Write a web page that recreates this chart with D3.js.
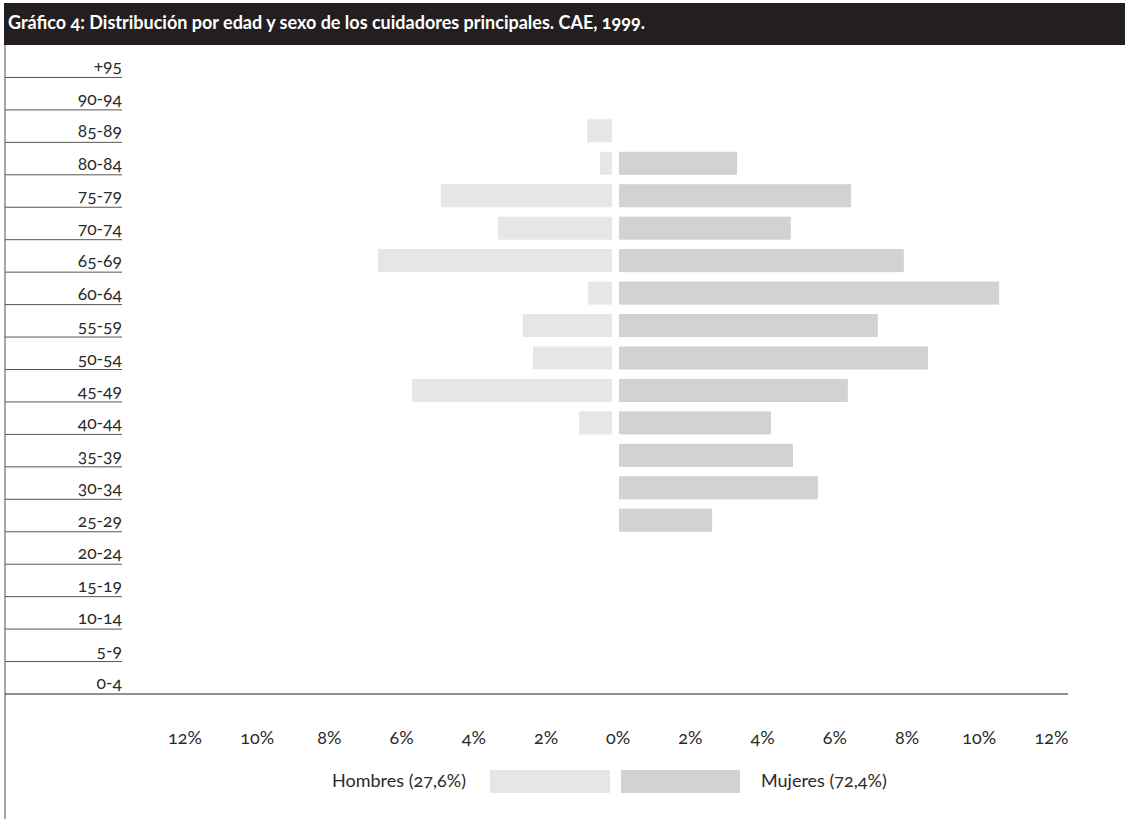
<!DOCTYPE html>
<html><head><meta charset="utf-8">
<script src="https://cdn.jsdelivr.net/npm/d3@7"></script>
<style>
body{margin:0;background:#fff}
svg{display:block}
text{font-family:Lato,"Noto Sans",sans-serif;font-variant-numeric:oldstyle-nums;font-feature-settings:"onum" 1;}
</style>
</head><body>
<svg id="chart" width="1125" height="819"></svg>
<script>
const title = "Gráfico 4: Distribución por edad y sexo de los cuidadores principales. CAE, 1999.";
const ageGroups = ["+95","90-94","85-89","80-84","75-79","70-74","65-69","60-64","55-59","50-54","45-49","40-44","35-39","30-34","25-29","20-24","15-19","10-14","5-9","0-4"];
const hombres = [0,0,0.69,0.33,4.74,3.16,6.48,0.66,2.47,2.19,5.54,0.91,0,0,0,0,0,0,0,0];
const mujeres = [0,0,0,3.27,6.43,4.76,7.89,10.53,7.17,8.56,6.34,4.21,4.82,5.51,2.58,0,0,0,0,0];
const tickValues = [-12,-10,-8,-6,-4,-2,0,2,4,6,8,10,12];
const legendLabels = ["Hombres (27,6%)","Mujeres (72,4%)"];
const colors = {hombres:"#e5e6e8", mujeres:"#d1d2d4"};

const svg = d3.select("#chart");
const W = 1125, H = 819;

// title bar
svg.append("rect").attr("x",4).attr("y",3).attr("width",W-4).attr("height",42).attr("fill","#231f20");
svg.append("text").attr("x",8).attr("y",29).attr("fill","#fff")
  .attr("font-size",18).attr("font-weight",700).text(title);

const y = d3.scaleBand().domain(ageGroups).range([45,694]).padding(0);
const unit = 36.1;
const xM = d3.scaleLinear().domain([0,12]).range([612, 612-12*unit]);
const xF = d3.scaleLinear().domain([0,12]).range([619, 619+12*unit]);
const xA = d3.scaleLinear().domain([-12,12]).range([617.7-12*unit, 617.7+12*unit]);

// left vertical line
svg.append("line").attr("x1",5).attr("x2",5).attr("y1",45).attr("y2",H).attr("stroke","#8a8a8a").attr("stroke-width",1.5);

// row lines & labels
const rows = svg.append("g");
ageGroups.forEach((g,i)=>{
  const yb = y(g)+y.bandwidth();
  const last = i===ageGroups.length-1;
  rows.append("line").attr("x1",5).attr("x2", last?1068:122)
    .attr("y1",yb).attr("y2",yb).attr("stroke", last?"#231f20":"#555").attr("stroke-width",1);
  rows.append("text").attr("x",122).attr("y",yb-5).attr("text-anchor","end")
    .attr("font-size",17.5).attr("fill","#2a2a2a").text(g);
});

// bars
const bh = y.bandwidth()*0.71;
const bars = svg.append("g");
bars.selectAll("rect.m").data(ageGroups.map((g,i)=>({g,v:hombres[i]})).filter(d=>d.v>0))
  .join("rect").attr("class","m")
  .attr("x",d=>xM(d.v)).attr("width",d=>xM(0)-xM(d.v))
  .attr("y",d=>y(d.g)+y.bandwidth()-bh).attr("height",bh).attr("fill",colors.hombres);
bars.selectAll("rect.f").data(ageGroups.map((g,i)=>({g,v:mujeres[i]})).filter(d=>d.v>0))
  .join("rect").attr("class","f")
  .attr("x",xF(0)).attr("width",d=>xF(d.v)-xF(0))
  .attr("y",d=>y(d.g)+y.bandwidth()-bh).attr("height",bh).attr("fill",colors.mujeres);

// x axis
const axis = d3.axisBottom(xA).tickValues(tickValues).tickSize(0).tickPadding(0)
  .tickFormat(d=>Math.abs(d)+"%");
const ag = svg.append("g").attr("transform","translate(0,744)").call(axis);
ag.select(".domain").remove();
ag.selectAll("text").attr("dy",0).attr("font-size",18).attr("fill","#2a2a2a")
  .style("font-family","Lato,'Noto Sans',sans-serif");

// legend
const lg = svg.append("g");
lg.append("rect").attr("x",490).attr("y",770).attr("width",120).attr("height",23).attr("fill",colors.hombres);
lg.append("rect").attr("x",621).attr("y",770).attr("width",119).attr("height",23).attr("fill",colors.mujeres);
lg.append("text").attr("x",466).attr("y",787).attr("text-anchor","end").attr("font-size",18).attr("fill","#2a2a2a").text(legendLabels[0]);
lg.append("text").attr("x",761).attr("y",787).attr("font-size",18).attr("fill","#2a2a2a").text(legendLabels[1]);
</script>
</body></html>
